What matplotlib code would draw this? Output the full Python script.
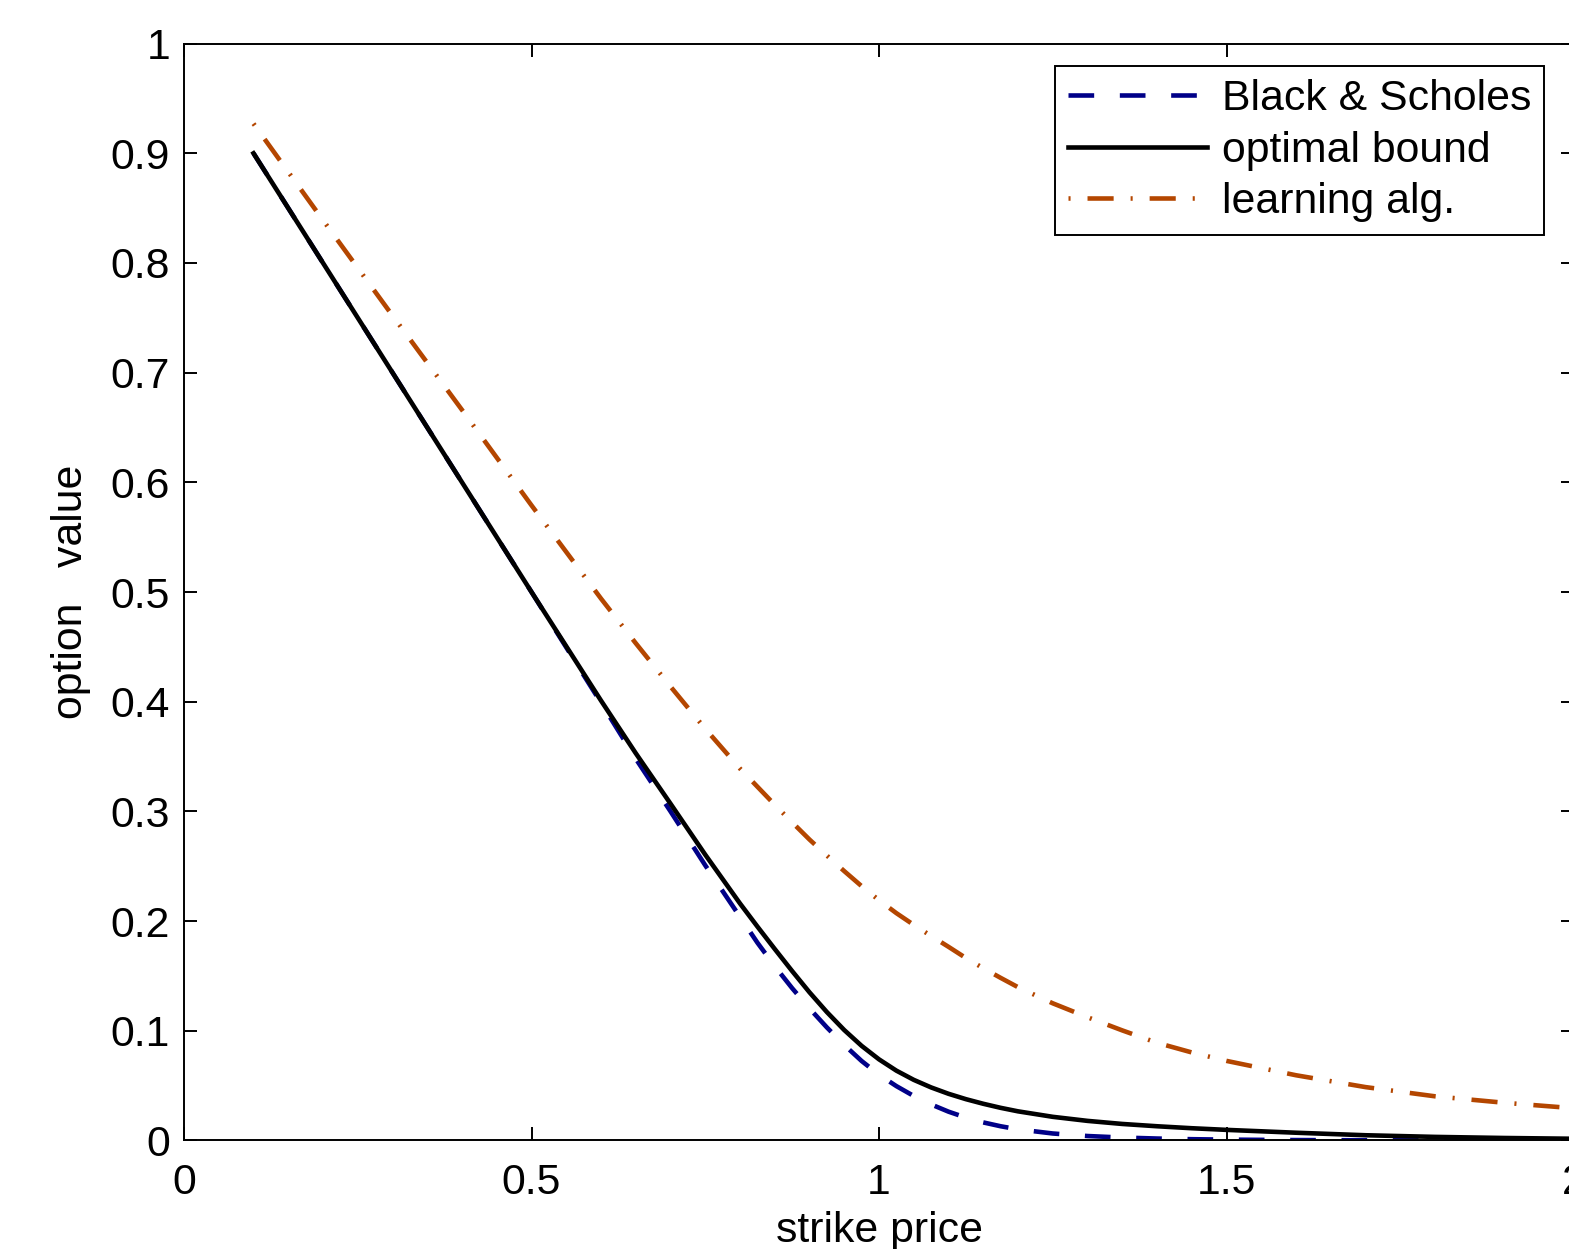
import matplotlib
matplotlib.use('Agg')
import matplotlib.pyplot as plt

plt.rcParams['font.family'] = ['Liberation Sans', 'DejaVu Sans']

# values (finer steps where the curves bend)
strike = [0.1, 0.2, 0.3, 0.4, 0.5, 0.6, 0.65, 0.7, 0.75, 0.8, 0.825, 0.85, 0.875,
          0.9, 0.925, 0.95, 0.975, 1.0, 1.025, 1.05, 1.075, 1.1, 1.125, 1.15, 1.175,
          1.2, 1.25, 1.3, 1.35, 1.4, 1.45, 1.5, 1.6, 1.7, 1.8, 1.9, 2.0]
black_scholes = [0.900, 0.800, 0.700, 0.600, 0.500, 0.399, 0.348, 0.300, 0.2508, 0.2038,
                 0.1803, 0.1588, 0.1388, 0.1203, 0.1030, 0.0870, 0.0724, 0.0599, 0.0495,
                 0.0405, 0.0328, 0.0262, 0.0208, 0.0164, 0.0129, 0.0101, 0.0063, 0.0040,
                 0.0026, 0.0017, 0.0011, 0.0007, 0.0003, 0.0001, 0.0, 0.0, 0.0]
optimal_bound = [0.900, 0.800, 0.700, 0.600, 0.500, 0.401, 0.353, 0.307, 0.2605, 0.2160,
                 0.1950, 0.1745, 0.1544, 0.1350, 0.1170, 0.1006, 0.0862, 0.0739, 0.0636,
                 0.0552, 0.0483, 0.0425, 0.0376, 0.0334, 0.0297, 0.0265, 0.0215, 0.0178,
                 0.0150, 0.0129, 0.0111, 0.0096, 0.0070, 0.0047, 0.0032, 0.0022, 0.0015]
learning_alg = [0.927, 0.839, 0.752, 0.666, 0.579, 0.494, 0.4533, 0.4138, 0.3753, 0.3390,
                0.3225, 0.3060, 0.2900, 0.2743, 0.2597, 0.2455, 0.2318, 0.2190, 0.2072,
                0.1965, 0.1864, 0.1765, 0.1663, 0.1570, 0.1482, 0.1397, 0.1250, 0.1123,
                0.1003, 0.0890, 0.0802, 0.0725, 0.0594, 0.0486, 0.0402, 0.0343, 0.0293]

xticks = [0, 0.5, 1, 1.5, 2]
xtick_labels = ['0', '0.5', '1', '1.5', '2']
yticks = [0, 0.1, 0.2, 0.3, 0.4, 0.5, 0.6, 0.7, 0.8, 0.9, 1]
ytick_labels = ['0', '0.1', '0.2', '0.3', '0.4', '0.5', '0.6', '0.7', '0.8', '0.9', '1']

W, H = 1569, 1249
fs = 30.8
lw = 3.3

fig = plt.figure(figsize=(W / 100, H / 100), dpi=100)
# axes run slightly past the right edge of the picture, as in the reference
ax = fig.add_axes([184 / W, 108.6 / H, 1390 / W, 1096.8 / H])

ax.plot(strike, black_scholes, color='#000088', lw=lw, dashes=[5.6, 5.6],
        label='Black & Scholes')
ax.plot(strike, optimal_bound, color='black', lw=lw, label='optimal bound')
ax.plot(strike, learning_alg, color='#b44600', lw=lw, dashes=[0.45, 3.7, 5.7, 3.7],
        label='learning alg.')

ax.set_xlim(0, 2)
ax.set_ylim(0, 1)
ax.set_xticks(xticks)
ax.set_xticklabels(xtick_labels)
ax.set_yticks(yticks)
ax.set_yticklabels(ytick_labels)

for s in ax.spines.values():
    s.set_linewidth(1.4)
ax.tick_params(direction='in', length=9.4, width=1.4, top=True, right=True,
               labelsize=fs)
ax.tick_params(axis='x', pad=16)
ax.tick_params(axis='y', pad=10)

ax.set_xlabel('strike price', fontsize=fs, labelpad=6)
ax.set_ylabel('option   value', fontsize=fs, labelpad=14)

leg = ax.legend(loc='upper right', bbox_to_anchor=(1544 / W, 1 - 66 / H),
                bbox_transform=fig.transFigure, borderaxespad=0, fontsize=fs,
                handlelength=3.25, handletextpad=0.35, labelspacing=0.276,
                borderpad=0.3, fancybox=False, framealpha=1)
leg.get_frame().set_edgecolor('black')
leg.get_frame().set_linewidth(1.4)

fig.savefig('out.png', dpi=100)
